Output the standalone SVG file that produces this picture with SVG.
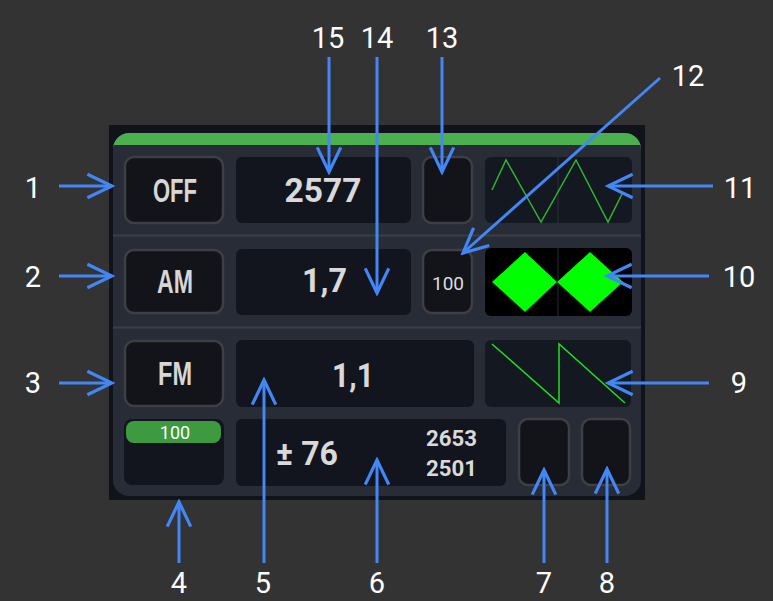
<svg xmlns="http://www.w3.org/2000/svg" width="773" height="601" viewBox="0 0 773 601">
<style>
.lbl{font-family:Roboto,"Liberation Sans",sans-serif;font-size:29px;fill:#ffffff;text-anchor:middle}
.btn{fill:#121419;stroke:#3e3f43;stroke-width:2.5}
.box{fill:#12151e}
.mode{font-family:"Liberation Sans",Arial,sans-serif;font-weight:bold;font-size:33px;fill:#d6d6d6;text-anchor:middle}
.val{font-family:Roboto,"Liberation Sans",sans-serif;font-weight:bold;fill:#d9d9d9;text-anchor:middle}
.co{stroke:#4287f5;stroke-width:3;fill:none;marker-end:url(#ah)}
</style>
<defs>
<marker id="ah" markerUnits="userSpaceOnUse" markerWidth="30" markerHeight="30" viewBox="-2 -2 28 26" refX="23" refY="11" orient="auto">
<path d="M0,0 L23,11 L0,22" fill="none" stroke="#4287f5" stroke-width="3"/>
</marker>
</defs>
<rect width="773" height="601" fill="#333333"/>
<g id="panel">
<rect x="109" y="125" width="536" height="375" fill="#10131a"/>
<path d="M113,149 A16,16 0 0 1 129,133 L625,133 A16,16 0 0 1 641,149 L641,480 A16,16 0 0 1 625,496 L129,496 A16,16 0 0 1 113,480 Z" fill="#282c37"/>
<path d="M113,149 A16,16 0 0 1 129,133 L625,133 A16,16 0 0 1 641,149 L641,145 L113,145 Z" fill="#4caf50"/>
<line x1="113" y1="235.5" x2="641" y2="235.5" stroke="#3a3e47" stroke-width="2"/>
<line x1="113" y1="327.5" x2="641" y2="327.5" stroke="#3a3e47" stroke-width="2"/>
</g>
<g id="n1">
<rect class="btn" x="125" y="157" width="98" height="66" rx="9"/>
<text class="mode" x="175" y="202" textLength="44" lengthAdjust="spacingAndGlyphs">OFF</text>
</g>
<g id="n15">
<rect class="box" x="236" y="157" width="175" height="66" rx="6"/>
<text class="val" x="323" y="202" font-size="33" textLength="77" lengthAdjust="spacingAndGlyphs">2577</text>
</g>
<g id="n13">
<rect class="btn" x="423" y="157" width="49" height="66" rx="9"/>
</g>
<g id="n11">
<rect x="485" y="157" width="147" height="66" rx="6" fill="#141821"/>
<line x1="558" y1="157" x2="558" y2="223" stroke="#2a2e36" stroke-width="1"/>
<polyline points="492,190 506,160 541,222 576,160 608,222 623,192" fill="none" stroke="#2fb52f" stroke-width="1.5"/>
</g>
<g id="n2">
<rect class="btn" x="125" y="250" width="98" height="63" rx="9"/>
<text class="mode" x="175" y="293" textLength="36" lengthAdjust="spacingAndGlyphs">AM</text>
</g>
<g id="n14">
<rect class="box" x="236" y="249" width="175" height="66" rx="6"/>
<text class="val" x="324.5" y="292" font-size="33" textLength="45" lengthAdjust="spacingAndGlyphs">1,7</text>
</g>
<g id="n12">
<rect class="btn" x="423" y="250" width="49" height="63" rx="9"/>
<text x="448" y="290" font-family="Roboto,'Liberation Sans',sans-serif" font-size="19" fill="#dddddd" text-anchor="middle">100</text>
</g>
<g id="n10">
<rect x="485" y="248" width="147" height="68" rx="6" fill="#000000"/>
<line x1="558" y1="248" x2="558" y2="316" stroke="#2a2e36" stroke-width="1"/>
<polygon points="492,282 525,252 557,282 525,312" fill="#00ff00"/>
<polygon points="557,282 590,252 623,282 590,312" fill="#00ff00"/>
</g>
<g id="n3">
<rect class="btn" x="125" y="341" width="98" height="65" rx="9"/>
<text class="mode" x="175" y="385" textLength="34" lengthAdjust="spacingAndGlyphs">FM</text>
</g>
<g id="n5">
<rect class="box" x="236" y="340" width="238" height="67" rx="6"/>
<text class="val" x="353" y="387" font-size="33" textLength="42" lengthAdjust="spacingAndGlyphs">1,1</text>
</g>
<g id="n9">
<rect x="485" y="340" width="146" height="67" rx="6" fill="#141821"/>
<polyline points="492,344 559,403 559,344 625,403" fill="none" stroke="#22dd22" stroke-width="1.5"/>
</g>
<g id="n4">
<rect class="box" x="124" y="419" width="100" height="66" rx="8"/>
<rect x="126" y="421" width="95" height="22" rx="8" fill="#3d9a3f"/>
<text x="175" y="439" font-family="Roboto,'Liberation Sans',sans-serif" font-size="18" fill="#ffffff" text-anchor="middle">100</text>
</g>
<g id="n6">
<rect class="box" x="236" y="419" width="270" height="67" rx="6"/>
<text class="val" x="307" y="465" font-size="33" textLength="62" lengthAdjust="spacingAndGlyphs">± 76</text>
<text class="val" x="451.5" y="446" font-size="22" textLength="51" lengthAdjust="spacingAndGlyphs">2653</text>
<text class="val" x="451.5" y="476" font-size="22" textLength="51" lengthAdjust="spacingAndGlyphs">2501</text>
</g>
<g id="n7">
<rect class="btn" x="519" y="419" width="50" height="66" rx="9"/>
</g>
<g id="n8">
<rect class="btn" x="582" y="419" width="48" height="66" rx="9"/>
</g>
<g id="connectors">
<line class="co" x1="329" y1="57" x2="329" y2="172"/>
<line class="co" x1="377" y1="57" x2="377" y2="293"/>
<line class="co" x1="442" y1="57" x2="442" y2="172"/>
<line class="co" x1="660" y1="78" x2="463" y2="253"/>
<line class="co" x1="713" y1="186" x2="608" y2="186"/>
<line class="co" x1="709" y1="276" x2="607" y2="276"/>
<line class="co" x1="709" y1="383" x2="608" y2="383"/>
<line class="co" x1="59" y1="186" x2="112" y2="186"/>
<line class="co" x1="59" y1="276" x2="112" y2="276"/>
<line class="co" x1="59" y1="383" x2="112" y2="383"/>
<line class="co" x1="179" y1="563" x2="179" y2="502"/>
<line class="co" x1="264" y1="563" x2="264" y2="380"/>
<line class="co" x1="377" y1="563" x2="377" y2="460"/>
<line class="co" x1="544" y1="563" x2="544" y2="470"/>
<line class="co" x1="607" y1="563" x2="607" y2="469"/>
</g>
<g id="labels">
<text class="lbl" x="328" y="48">15</text>
<text class="lbl" x="377" y="48">14</text>
<text class="lbl" x="442" y="48">13</text>
<text class="lbl" x="688" y="86">12</text>
<text class="lbl" x="740" y="198">11</text>
<text class="lbl" x="739" y="287">10</text>
<text class="lbl" x="739" y="393">9</text>
<text class="lbl" x="33" y="198">1</text>
<text class="lbl" x="33" y="287">2</text>
<text class="lbl" x="33" y="393">3</text>
<text class="lbl" x="179" y="593">4</text>
<text class="lbl" x="263" y="593">5</text>
<text class="lbl" x="377" y="593">6</text>
<text class="lbl" x="544" y="593">7</text>
<text class="lbl" x="607" y="593">8</text>
</g>
</svg>
